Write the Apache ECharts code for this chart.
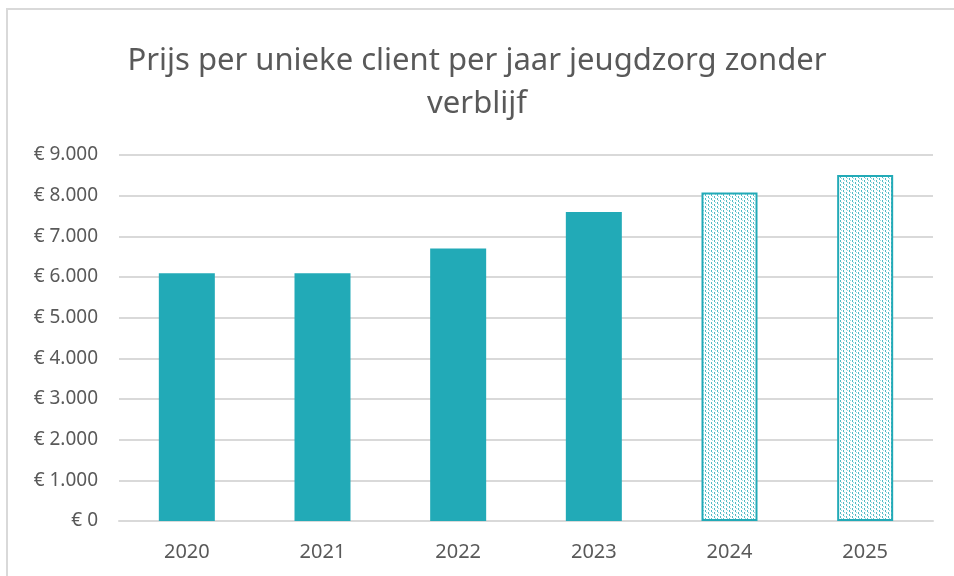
<!DOCTYPE html>
<html>
<head>
<meta charset="utf-8">
<script src="https://cdn.jsdelivr.net/npm/echarts@6/dist/echarts.min.js"></script>
<style>
  html, body { margin: 0; padding: 0; background: #fff; }
  #chart { width: 954px; height: 576px; }
</style>
</head>
<body>
<div id="chart"></div>
<script>
var years = ['2020', '2021', '2022', '2023', '2024', '2025'];
var prices = [6090, 6090, 6700, 7600, 8080, 8510];
// 2024 en 2025 zijn prognoses (gearceerd)
var prognose = [false, false, false, false, true, true];
var yTicks = { min: 0, max: 9000, interval: 1000 };

var teal = '#22aab7';

// stippelpatroon voor de prognose-staven
function dotPattern() {
  var c = document.createElement('canvas');
  c.width = 6; c.height = 4;
  var ctx = c.getContext('2d');
  ctx.fillStyle = '#ffffff';
  ctx.fillRect(0, 0, 6, 4);
  ctx.fillStyle = 'rgba(34,170,183,0.8)';
  ctx.fillRect(0, 0, 1, 2);
  ctx.fillRect(3, 2, 1, 2);
  ctx.fillStyle = 'rgba(34,170,183,0.45)';
  ctx.fillRect(1, 2, 1, 1);
  ctx.fillRect(4, 0, 1, 1);
  return c;
}
var pattern = dotPattern();

function euro(v) {
  var s = String(v).replace(/\B(?=(\d{3})+(?!\d))/g, '.');
  return '€ ' + s;
}

var barData = prices.map(function(v, i) {
  if (!prognose[i]) return v;
  return {
    value: v,
    itemStyle: {
      color: { image: pattern, repeat: 'repeat' },
      borderColor: teal,
      borderWidth: 2
    }
  };
});

var chart = echarts.init(document.getElementById('chart'));
chart.setOption({
  animation: false,
  textStyle: { fontFamily: 'Noto Sans' },
  graphic: [{
    type: 'rect',
    shape: { x: 7, y: 9, width: 1000, height: 1000 },
    style: { fill: null, stroke: '#d9d9d9', lineWidth: 2 },
    silent: true
  }],
  title: {
    text: 'Prijs per unieke client per jaar jeugdzorg zonder\nverblijf',
    left: 'center',
    top: 35,
    textStyle: {
      fontFamily: 'Noto Sans',
      fontWeight: 'normal',
      fontSize: 31,
      color: '#595959',
      lineHeight: 43
    }
  },
  grid: { left: 119, right: 21, top: 155, bottom: 55 },
  xAxis: {
    type: 'category',
    data: years,
    axisLine: { lineStyle: { color: '#d9d9d9', width: 2 } },
    axisTick: { show: false },
    axisLabel: { color: '#595959', fontSize: 20, margin: 21 }
  },
  yAxis: {
    type: 'value',
    min: yTicks.min,
    max: yTicks.max,
    interval: yTicks.interval,
    axisLine: { show: false },
    axisTick: { show: false },
    splitLine: { lineStyle: { color: '#d9d9d9', width: 2 } },
    axisLabel: { color: '#595959', fontSize: 19, margin: 21, formatter: euro }
  },
  series: [{
    type: 'bar',
    data: barData,
    barWidth: 56,
    itemStyle: { color: teal }
  }]
});
</script>
</body>
</html>
